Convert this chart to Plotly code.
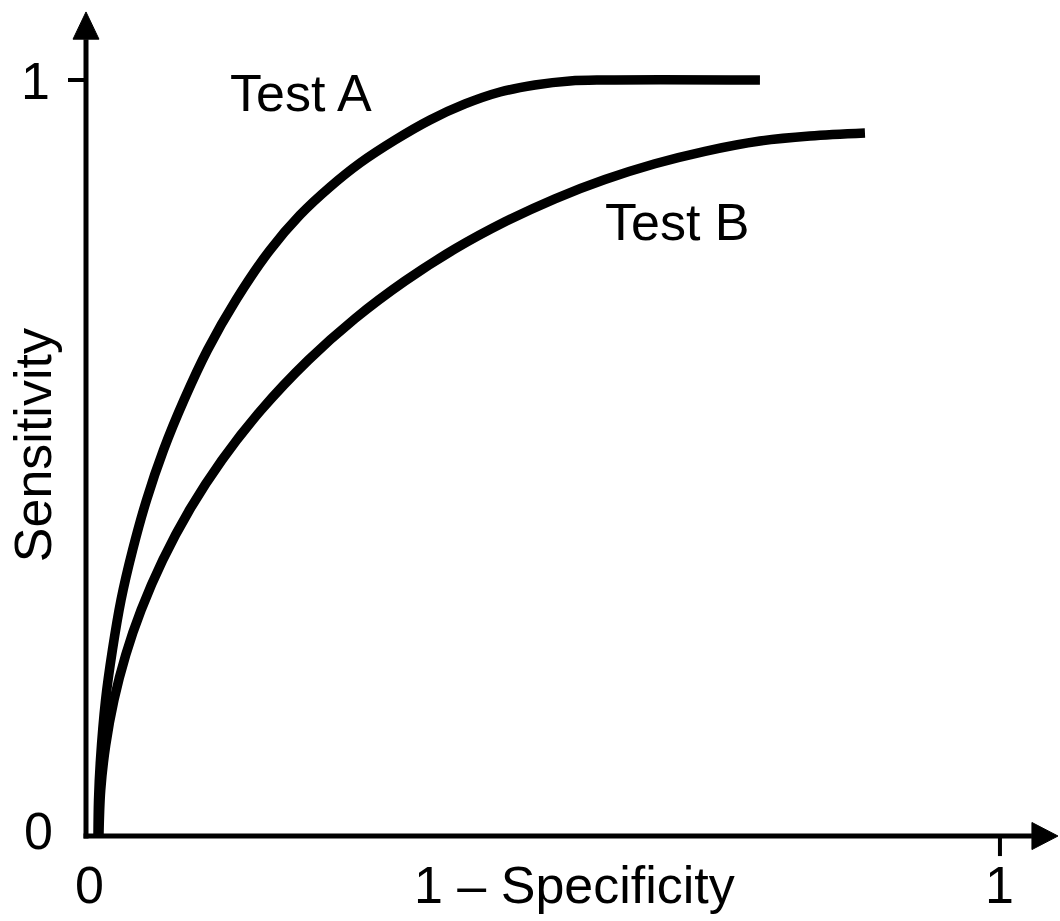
import plotly.graph_objects as go

# ROC curves: false-positive rate (1 - specificity) vs. sensitivity
test_a_fpr = [0.0131, 0.0137, 0.0158, 0.0214, 0.0289, 0.0383, 0.0510, 0.0662,
              0.0848, 0.1072, 0.1329, 0.1641, 0.2013, 0.2341, 0.2670, 0.2998,
              0.3381, 0.3764, 0.4147, 0.4530, 0.4912, 0.5295, 0.5678, 0.7374]
test_a_sens = [0.0, 0.0476, 0.1005, 0.1799, 0.2460, 0.3122, 0.3783, 0.4444,
               0.5106, 0.5767, 0.6429, 0.7090, 0.7751, 0.8214, 0.8585, 0.8902,
               0.9206, 0.9471, 0.9683, 0.9841, 0.9934, 0.9987, 1.0, 1.0]

test_b_fpr = [0.0142, 0.0161, 0.0216, 0.0306, 0.0434, 0.0603, 0.0840, 0.1132,
              0.1488, 0.1917, 0.2434, 0.2943, 0.3490, 0.4037, 0.4584, 0.5131,
              0.5678, 0.6225, 0.6772, 0.7374, 0.7921, 0.8523]
test_b_sens = [0.0, 0.0608, 0.1204, 0.1799, 0.2394, 0.2989, 0.3651, 0.4312,
               0.4974, 0.5635, 0.6296, 0.6844, 0.7341, 0.7765, 0.8124, 0.8429,
               0.8683, 0.8892, 0.9057, 0.9193, 0.9259, 0.9299]

tick_values = [0, 1]
tick_labels = ["0", "1"]

series_names = ["Test A", "Test B"]
x_title = "1 \u2013 Specificity"
y_title = "Sensitivity"

W, H = 1060, 921
X_RANGE = [-0.0941, 1.0657]
Y_RANGE = [-0.1124, 1.1058]

FONT = "Liberation Sans, Arial, Helvetica, sans-serif"
INK = "#000000"
CURVE_W = 9.5
AXIS_W = 5

fig = go.Figure()

for xs, ys in [(test_a_fpr, test_a_sens), (test_b_fpr, test_b_sens)]:
    fig.add_trace(go.Scatter(
        x=xs, y=ys, mode="lines",
        line=dict(color=INK, width=CURVE_W, shape="spline", smoothing=1.0),
        hoverinfo="skip", showlegend=False,
    ))

# axis extents (in data units) and arrowheads
x_end, y_end = 1.035, 1.054
x_tip, y_tip = 1.0635, 1.090
half_x, half_y = 0.0142, 0.0179
ex, ey = 0.0027, 0.0033  # half line-width overlap at the corner

shapes = [
    dict(type="line", xref="x", yref="y", x0=0, y0=-ey, x1=0, y1=y_end,
         line=dict(color=INK, width=AXIS_W)),
    dict(type="line", xref="x", yref="y", x0=-ex, y0=0, x1=x_end, y1=0,
         line=dict(color=INK, width=AXIS_W)),
    dict(type="path", xref="x", yref="y",
         path=f"M {-half_x},{y_end} L 0,{y_tip} L {half_x},{y_end} Z",
         fillcolor=INK, line=dict(color=INK, width=1)),
    dict(type="path", xref="x", yref="y",
         path=f"M {x_end},{half_y} L {x_tip},0 L {x_end},{-half_y} Z",
         fillcolor=INK, line=dict(color=INK, width=1)),
    # tick marks at 1 on each axis
    dict(type="line", xref="x", yref="y", x0=-0.0197, y0=1, x1=0, y1=1,
         line=dict(color=INK, width=4)),
    dict(type="line", xref="x", yref="y", x0=1, y0=0, x1=1, y1=-0.0265,
         line=dict(color=INK, width=4)),
]

font = dict(family=FONT, size=52, color=INK)
annotations = []
for v, t in zip(tick_values, tick_labels):
    annotations.append(dict(x=v, y=0, xref="x", yref="y", text=t, showarrow=False,
                            xanchor="center", yanchor="middle",
                            xshift=3 if v == 0 else 0, yshift=-49, font=font))
    annotations.append(dict(x=0, y=v, xref="x", yref="y", text=t, showarrow=False,
                            xanchor="center", yanchor="middle",
                            xshift=-48 if v == 0 else -51,
                            yshift=5 if v == 0 else -1, font=font))

annotations += [
    dict(x=0.535, y=0, xref="x", yref="y", text=x_title, showarrow=False,
         xanchor="center", yanchor="middle", yshift=-49, font=font),
    dict(x=0, y=0.517, xref="x", yref="y", text=y_title, showarrow=False,
         textangle=-90, xanchor="center", yanchor="middle", xshift=-53, font=font),
    dict(x=0.235, y=0.983, xref="x", yref="y", text=series_names[0], showarrow=False,
         xanchor="center", yanchor="middle", font=font),
    dict(x=0.647, y=0.812, xref="x", yref="y", text=series_names[1], showarrow=False,
         xanchor="center", yanchor="middle", font=font),
]

fig.update_layout(
    width=W, height=H,
    margin=dict(l=0, r=0, t=0, b=0),
    paper_bgcolor="white", plot_bgcolor="white",
    xaxis=dict(visible=False, range=X_RANGE, fixedrange=True),
    yaxis=dict(visible=False, range=Y_RANGE, fixedrange=True),
    shapes=shapes, annotations=annotations, showlegend=False,
)

fig.write_html("out.html", config={"displayModeBar": False})
